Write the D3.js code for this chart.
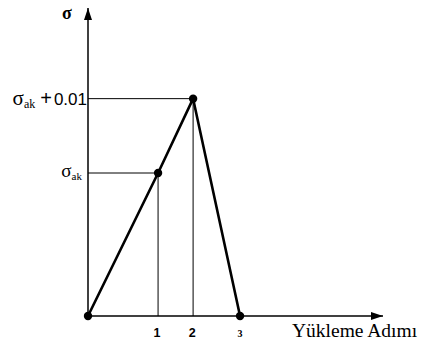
<!DOCTYPE html>
<html>
<head>
<meta charset="utf-8">
<script src="https://cdn.jsdelivr.net/npm/d3@7"></script>
<style>
  html, body { margin: 0; padding: 0; background: #fff; }
  svg { display: block; }
  text { fill: #000; }
</style>
</head>
<body>
<svg id="chart" width="424" height="347"></svg>
<script>
// Loading path: step position (schematic) and stress level (schematic units)
const steps = [0, 1, 1.5, 2.17];
const stress = [0, 1, 1.52, 0];
const stepLabels = ["", "1", "2", "3"];
const xAxisTitle = "Yükleme Adımı";
const yAxisTitle = "σ";

const svg = d3.select("#chart");
const x = d3.scaleLinear().domain([0, 4.21]).range([88, 383]);
const y = d3.scaleLinear().domain([0, 2.154]).range([316, 8]);

const pts = steps.map((s, i) => ({ s, v: stress[i], label: stepLabels[i] }));

// arrow head marker
const defs = svg.append("defs");
defs.append("marker")
  .attr("id", "arrow")
  .attr("viewBox", "0 0 12 8")
  .attr("refX", 12).attr("refY", 4)
  .attr("markerWidth", 12).attr("markerHeight", 8)
  .attr("markerUnits", "userSpaceOnUse")
  .attr("orient", "auto")
  .append("path").attr("d", "M0,0 L12,4 L0,8 Z").attr("fill", "#000");

// guide lines for the points above zero
const guides = pts.filter(d => d.v > 0);
svg.selectAll(".gh").data(guides).enter().append("line")
  .attr("x1", x(0)).attr("x2", d => x(d.s))
  .attr("y1", d => y(d.v)).attr("y2", d => y(d.v))
  .attr("stroke", "#000").attr("stroke-width", 1);
svg.selectAll(".gv").data(guides).enter().append("line")
  .attr("x1", d => x(d.s)).attr("x2", d => x(d.s))
  .attr("y1", d => y(d.v)).attr("y2", y(0))
  .attr("stroke", "#000").attr("stroke-width", 1);

// axes
svg.append("line")
  .attr("x1", x(0)).attr("x2", x(0))
  .attr("y1", y(0)).attr("y2", y.range()[1])
  .attr("stroke", "#000").attr("stroke-width", 1.5)
  .attr("marker-end", "url(#arrow)");
svg.append("line")
  .attr("x1", x(0)).attr("x2", x.range()[1])
  .attr("y1", y(0)).attr("y2", y(0))
  .attr("stroke", "#000").attr("stroke-width", 1.5)
  .attr("marker-end", "url(#arrow)");

// stress path
svg.append("path")
  .datum(pts)
  .attr("d", d3.line().x(d => x(d.s)).y(d => y(d.v)))
  .attr("fill", "none").attr("stroke", "#000").attr("stroke-width", 2.6)
  .attr("stroke-linejoin", "round");

svg.selectAll("circle").data(pts).enter().append("circle")
  .attr("cx", d => x(d.s)).attr("cy", d => y(d.v)).attr("r", 4.2)
  .attr("fill", "#000");

// step labels
svg.selectAll(".tl").data(pts.filter(d => d.label)).enter().append("text")
  .attr("x", d => x(d.s) + (d.label === "3" ? 0 : -1))
  .attr("y", 337)
  .attr("text-anchor", "middle")
  .attr("font-family", d => d.label === "3" ? "Liberation Serif, serif" : "Liberation Sans, Arial, sans-serif")
  .attr("font-weight", "bold")
  .attr("font-size", d => d.label === "3" ? 10 : 12.5)
  .text(d => d.label);

// axis titles
svg.append("text")
  .attr("x", 292).attr("y", 337)
  .attr("font-family", "Liberation Serif, Times New Roman, serif")
  .attr("font-size", 19.5)
  .text(xAxisTitle);
svg.append("text")
  .attr("x", 67).attr("y", 19)
  .attr("text-anchor", "middle")
  .attr("font-family", "Liberation Serif, serif")
  .attr("font-weight", "bold")
  .attr("font-size", 18)
  .text(yAxisTitle);

// stress level labels
function sigmaLabel(yv, xEnd, dyBase, sigSize, subSize, suffix) {
  const t = svg.append("text")
    .attr("x", xEnd).attr("y", y(yv) + dyBase)
    .attr("text-anchor", "end")
    .attr("font-family", "Liberation Serif, serif")
    .attr("font-size", sigSize);
  t.append("tspan").text("σ");
  t.append("tspan").attr("font-size", subSize).attr("dy", 3).text("ak");
  if (suffix) {
    t.append("tspan").attr("dy", -3).attr("dx", 5)
      .attr("font-family", "Liberation Sans, Arial, sans-serif")
      .attr("font-size", 20).text("+");
    t.append("tspan").attr("dx", 2)
      .attr("font-family", "Liberation Sans, Arial, sans-serif")
      .attr("font-size", 17).text(suffix);
  }
}
sigmaLabel(stress[1], 82, 4, 19, 11, null);
sigmaLabel(stress[2], 87, 6, 21, 12, "0.01");
</script>
</body>
</html>
